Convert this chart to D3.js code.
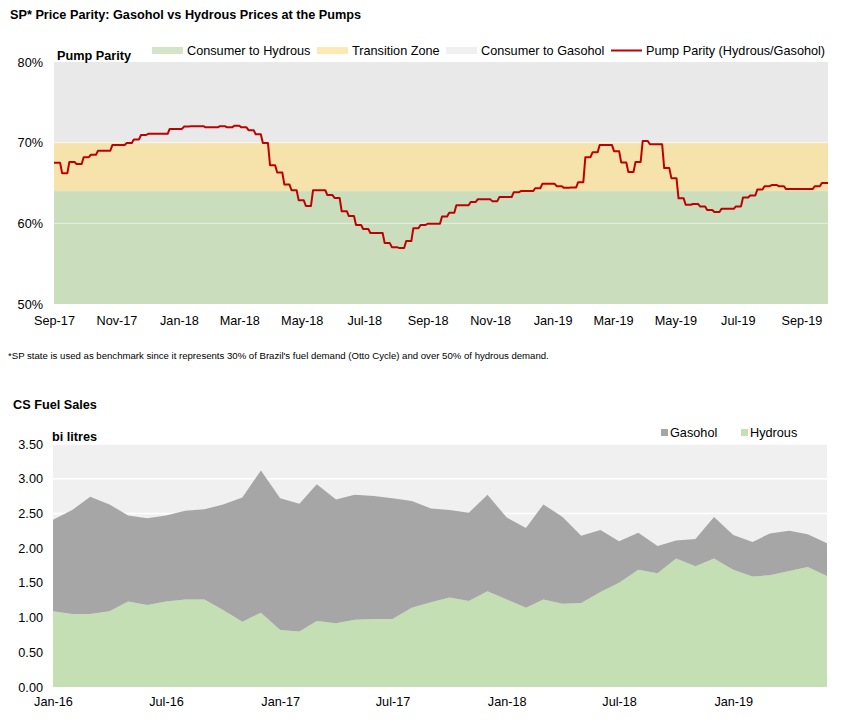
<!DOCTYPE html>
<html>
<head>
<meta charset="utf-8">
<script src="https://cdn.jsdelivr.net/npm/d3@7"></script>
<style>
  body { margin: 0; background: #fff; }
  svg { display: block; font-family: "Liberation Sans", Arial, sans-serif; }
</style>
</head>
<body>
<svg id="chart" width="845" height="724"></svg>
<script>
// ---------- Top chart data: SP pump parity (weekly, hydrous / gasohol) ----------
const parityStart = "2017-09-01";
const parity = [
  67.5, 66.2, 67.6, 67.35, 68.2, 68.5, 69.0, 69.0, 69.7, 69.7,
  69.95, 70.4, 70.95, 71.1, 71.1, 71.1, 71.7, 71.7, 72.0, 72.05,
  72.05, 71.9, 71.9, 72.05, 71.9, 72.1, 71.9, 71.55, 71.05, 69.95,
  67.2, 66.3, 64.8, 64.1, 62.85, 62.15, 64.1, 64.1, 63.5, 63.15,
  61.5, 60.9, 59.8, 59.3, 58.8, 58.8, 57.55, 57.05, 56.95, 57.8,
  59.4, 59.8, 59.95, 59.95, 60.85, 61.3, 62.25, 62.25, 62.65, 63.0,
  63.0, 62.75, 63.25, 63.25, 63.85, 64.0, 64.0, 64.35, 64.9, 64.9,
  64.6, 64.4, 64.45, 65.1, 68.2, 68.8, 69.7, 69.7, 68.95, 67.55,
  66.35, 67.6, 70.2, 69.8, 69.8, 66.85, 65.6, 63.1, 62.3, 62.4,
  62.1, 61.65, 61.4, 61.8, 61.8, 62.1, 63.2, 63.45, 64.2, 64.6,
  64.75, 64.6, 64.25, 64.25, 64.25, 64.25, 64.6, 65.0
];
const zones = [
  { name: "Consumer to Hydrous", from: 50, to: 64 },
  { name: "Transition Zone",     from: 64, to: 70 },
  { name: "Consumer to Gasohol", from: 70, to: 80 }
];
const parityTicks = [50, 60, 70, 80];

// ---------- Bottom chart data: CS fuel sales (monthly, bi litres) ----------
const salesStart = "2016-01-01";
const hydrous = [
  1.09, 1.05, 1.05, 1.09, 1.23, 1.18, 1.23, 1.26, 1.26, 1.11,
  0.94, 1.07, 0.82, 0.80, 0.95, 0.92, 0.97, 0.98, 0.98, 1.14,
  1.22, 1.29, 1.24, 1.38, 1.26, 1.14, 1.26, 1.20, 1.21, 1.37,
  1.50, 1.69, 1.64, 1.85, 1.74, 1.85, 1.69, 1.59, 1.61, 1.67,
  1.73, 1.60
];
const gasohol = [
  1.32, 1.50, 1.69, 1.54, 1.24, 1.25, 1.24, 1.28, 1.30, 1.52,
  1.79, 2.05, 1.90, 1.84, 1.97, 1.78, 1.80, 1.77, 1.74, 1.54,
  1.35, 1.26, 1.27, 1.39, 1.18, 1.15, 1.37, 1.25, 0.97, 0.89,
  0.60, 0.53, 0.39, 0.26, 0.39, 0.60, 0.50, 0.50, 0.60, 0.58,
  0.47, 0.47
];
const salesTicks = [0, 0.5, 1, 1.5, 2, 2.5, 3, 3.5];

// ---------- Styles ----------
const zoneColors = {
  "Consumer to Hydrous": "#cadebd",
  "Transition Zone": "#f5e3ab",
  "Consumer to Gasohol": "#e9e9e9"
};
const legendZoneColors = {
  "Consumer to Hydrous": "#d3e5c6",
  "Transition Zone": "#fde9b3",
  "Consumer to Gasohol": "#f0f0f0"
};
const lineColor = "#c00000";
const gasColor = "#a6a6a6";
const hydColor = "#c5dfb5";
const FONT = "12.7px";
const FAMILY = "Liberation Sans, Arial, sans-serif";

const svg = d3.select("#chart");

// ================= TOP CHART =================
const parseUtc = d3.utcParse("%Y-%m-%d");
const pStart = parseUtc(parityStart);
const parityData = parity.map((v, i) => ({ date: d3.utcDay.offset(pStart, 7 * i), value: v / 100 }));
const pEnd = d3.utcDay.offset(pStart, 7 * parity.length);

const x1 = d3.scaleUtc().domain([pStart, pEnd]).range([54, 828]);
const y1 = d3.scaleLinear().domain([0.5, 0.8]).range([304, 62]);

// each weekly value is held flat for the week, with a short ramp into the next week
const RAMP_MS = 2 * 24 * 3600 * 1000;
const linePts = [];
parityData.forEach((d, i) => {
  const t0 = +d.date;
  const t1 = i < parityData.length - 1 ? +parityData[i + 1].date : +pEnd;
  linePts.push({ t: i === 0 ? t0 : t0 + RAMP_MS / 2, value: d.value });
  linePts.push({ t: i === parityData.length - 1 ? t1 : t1 - RAMP_MS / 2, value: d.value });
});

svg.append("text").attr("x", 10).attr("y", 19)
  .attr("font-size", FONT).attr("font-weight", "bold").attr("fill", "#000")
  .text("SP* Price Parity: Gasohol vs Hydrous Prices at the Pumps");

const g1 = svg.append("g");
g1.selectAll("rect.zone").data(zones).join("rect")
  .attr("class", "zone")
  .attr("x", x1.range()[0]).attr("width", x1.range()[1] - x1.range()[0])
  .attr("y", d => y1(d.to / 100)).attr("height", d => y1(d.from / 100) - y1(d.to / 100))
  .attr("fill", d => zoneColors[d.name]);

g1.selectAll("line.grid").data(parityTicks.filter(t => t > 50 && t < 80)).join("line")
  .attr("class", "grid")
  .attr("x1", x1.range()[0]).attr("x2", x1.range()[1])
  .attr("y1", d => y1(d / 100)).attr("y2", d => y1(d / 100))
  .attr("stroke", "#fff").attr("stroke-opacity", 0.55).attr("stroke-width", 1);

g1.append("path").datum(linePts)
  .attr("fill", "none").attr("stroke", lineColor).attr("stroke-width", 2)
  .attr("stroke-linejoin", "round")
  .attr("d", d3.line().x(d => x1(new Date(d.t))).y(d => y1(d.value)));

const yAxis1 = d3.axisLeft(y1).tickValues(parityTicks.map(t => t / 100))
  .tickFormat(d3.format(".0%")).tickSize(0).tickPadding(0);
const ya1 = svg.append("g").attr("transform", "translate(43,0)").call(yAxis1);
ya1.select(".domain").remove();
ya1.selectAll("text").attr("font-size", FONT).attr("font-family", FAMILY).attr("fill", "#000");

const xAxis1 = d3.axisBottom(x1).ticks(d3.utcMonth.every(2))
  .tickFormat(d3.utcFormat("%b-%y")).tickSize(0).tickPadding(0);
const xa1 = svg.append("g").attr("transform", "translate(0,316)").call(xAxis1);
xa1.select(".domain").remove();
xa1.selectAll("text").attr("font-size", FONT).attr("font-family", FAMILY).attr("fill", "#000");

svg.append("text").attr("x", 57).attr("y", 60)
  .attr("font-size", FONT).attr("font-weight", "bold").text("Pump Parity");

// legend top
const leg1 = [
  { label: "Consumer to Hydrous", x: 152, type: "rect" },
  { label: "Transition Zone", x: 317, type: "rect" },
  { label: "Consumer to Gasohol", x: 446, type: "rect" },
  { label: "Pump Parity (Hydrous/Gasohol)", x: 611, type: "line" }
];
const lg1 = svg.append("g");
leg1.forEach(d => {
  if (d.type === "rect") {
    lg1.append("rect").attr("x", d.x).attr("y", 47).attr("width", 31).attr("height", 7)
      .attr("fill", legendZoneColors[d.label]);
  } else {
    lg1.append("line").attr("x1", d.x).attr("x2", d.x + 31).attr("y1", 50.5).attr("y2", 50.5)
      .attr("stroke", lineColor).attr("stroke-width", 2);
  }
  lg1.append("text").attr("x", d.x + 35).attr("y", 55).attr("font-size", FONT).text(d.label);
});

svg.append("text").attr("x", 8).attr("y", 359)
  .attr("font-size", "9.6px").attr("fill", "#000")
  .text("*SP state is used as benchmark since it represents 30% of Brazil's fuel demand (Otto Cycle) and over 50% of hydrous demand.");

// ================= BOTTOM CHART =================
svg.append("text").attr("x", 13).attr("y", 409)
  .attr("font-size", FONT).attr("font-weight", "bold").text("CS Fuel Sales");

const sStart = parseUtc(salesStart);
const salesData = hydrous.map((h, i) => ({ date: d3.utcMonth.offset(sStart, i), Hydrous: h, Gasohol: gasohol[i] }));
const x2 = d3.scaleUtc().domain([sStart, salesData[salesData.length - 1].date]).range([53, 827]);
const y2 = d3.scaleLinear().domain([0, 3.5]).range([687, 444]);

const g2 = svg.append("g");
g2.append("rect").attr("x", x2.range()[0]).attr("y", y2(3.5))
  .attr("width", x2.range()[1] - x2.range()[0]).attr("height", y2(0) - y2(3.5))
  .attr("fill", "#f0f0f0");
g2.selectAll("line.grid").data(salesTicks.filter(t => t > 0)).join("line")
  .attr("class", "grid")
  .attr("x1", x2.range()[0]).attr("x2", x2.range()[1])
  .attr("y1", d => y2(d)).attr("y2", d => y2(d))
  .attr("stroke", "#fff").attr("stroke-width", 1.5);

const stack = d3.stack().keys(["Hydrous", "Gasohol"]);
const series = stack(salesData);
const area = d3.area().x(d => x2(d.data.date)).y0(d => y2(d[0])).y1(d => y2(d[1]));
g2.selectAll("path.area").data(series).join("path")
  .attr("class", "area")
  .attr("fill", d => d.key === "Hydrous" ? hydColor : gasColor)
  .attr("d", area);

const yAxis2 = d3.axisLeft(y2).tickValues(salesTicks).tickFormat(d3.format(".2f")).tickSize(0).tickPadding(0);
const ya2 = svg.append("g").attr("transform", "translate(43,0)").call(yAxis2);
ya2.select(".domain").remove();
ya2.selectAll("text").attr("font-size", FONT).attr("font-family", FAMILY).attr("fill", "#000");

const xAxis2 = d3.axisBottom(x2).ticks(d3.utcMonth.every(6)).tickFormat(d3.utcFormat("%b-%y")).tickSize(0).tickPadding(0);
const xa2 = svg.append("g").attr("transform", "translate(0,697)").call(xAxis2);
xa2.select(".domain").remove();
xa2.selectAll("text").attr("font-size", FONT).attr("font-family", FAMILY).attr("fill", "#000");

svg.append("text").attr("x", 52).attr("y", 441)
  .attr("font-size", FONT).attr("font-weight", "bold").text("bi litres");

const leg2 = [
  { label: "Gasohol", x: 661, color: gasColor },
  { label: "Hydrous", x: 741, color: hydColor }
];
leg2.forEach(d => {
  svg.append("rect").attr("x", d.x).attr("y", 429).attr("width", 7).attr("height", 7).attr("fill", d.color);
  svg.append("text").attr("x", d.x + 9).attr("y", 437).attr("font-size", FONT).text(d.label);
});
</script>
</body>
</html>
